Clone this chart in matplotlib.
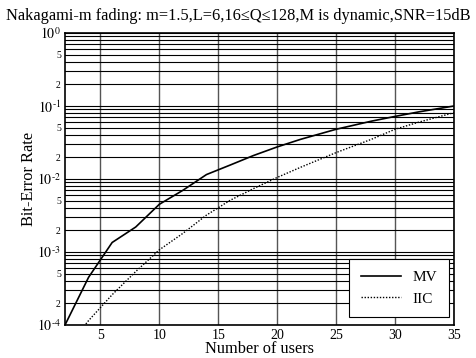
import matplotlib
matplotlib.use('Agg')
import matplotlib.pyplot as plt
from matplotlib.ticker import LogLocator, FuncFormatter, MultipleLocator
import numpy as np

plt.rcParams['font.family'] = ['Liberation Serif', 'DejaVu Serif']
plt.rcParams['mathtext.fontset'] = 'stix'

# data
users = [2, 4, 6, 8, 10, 12, 14, 16, 18, 20, 22, 25, 28, 30, 32, 35]
ber_mv = [1.0e-4, 4.5e-4, 1.35e-3, 2.2e-3, 4.5e-3, 7.0e-3, 1.15e-2, 1.55e-2,
          2.1e-2, 2.75e-2, 3.5e-2, 4.8e-2, 6.2e-2, 7.2e-2, 8.3e-2, 1.0e-1]
ber_iic = [4.5e-5, 1.15e-4, 2.6e-4, 5.4e-4, 1.07e-3, 1.8e-3, 3.2e-3, 5.1e-3,
           7.4e-3, 1.05e-2, 1.45e-2, 2.3e-2, 3.5e-2, 4.8e-2, 6.0e-2, 8.1e-2]
title = 'Nakagami-m fading: m=1.5,L=6,16\u2264Q\u2264128,M is dynamic,SNR=15dB'

fig = plt.figure(figsize=(4.76, 3.58), dpi=100)
ax = fig.add_axes([65/476, 1 - 325/358, 389/476, 292/358])

ax.semilogy(users, ber_mv, color='black', lw=1.2, label='MV')
ax.semilogy(users, ber_iic, color='black', lw=1.0, ls=(0, (1, 1.2)), label='IIC')

ax.set_xlim(2, 35)
ax.set_ylim(1e-4, 1)
ax.xaxis.set_major_locator(MultipleLocator(5))
ax.yaxis.set_major_locator(LogLocator(base=10, numticks=10))
ax.yaxis.set_minor_locator(LogLocator(base=10, subs=np.arange(2, 10), numticks=20))

def major_fmt(v, pos):
    e = int(round(np.log10(v)))
    if e < 0:
        return r'$10^{\text{-}%d}$' % (-e)
    return r'$10^{%d}$' % e

def minor_fmt(v, pos):
    m = v / 10 ** np.floor(np.log10(v) + 1e-9)
    m = int(round(m))
    return str(m) if m in (2, 5) else ''
ax.yaxis.set_major_formatter(FuncFormatter(major_fmt))
ax.yaxis.set_minor_formatter(FuncFormatter(minor_fmt))

ax.grid(True, axis='x', which='major', color='#555555', lw=1.0)
ax.grid(True, axis='y', which='both', color='black', lw=0.8)
ax.tick_params(axis='both', which='both', length=0, labelsize=10, pad=3)
ax.tick_params(axis='y', which='minor', labelsize=7)
for s in ax.spines.values():
    s.set_linewidth(1.2)

ax.set_xlabel('Number of users', fontsize=11.8, labelpad=-1)
ax.set_ylabel('Bit-Error Rate', fontsize=11.8, labelpad=0)
fig.text(0.5, 1 - 16/358, title, ha='center', va='center', fontsize=11.8)

leg = ax.legend(loc='lower right', fontsize=11, fancybox=False, framealpha=1,
                edgecolor='black', handlelength=2.6, borderpad=0.75,
                borderaxespad=0, bbox_to_anchor=(0.987, 0.027))
leg.get_frame().set_linewidth(0.8)

fig.savefig('out.png', dpi=100)
